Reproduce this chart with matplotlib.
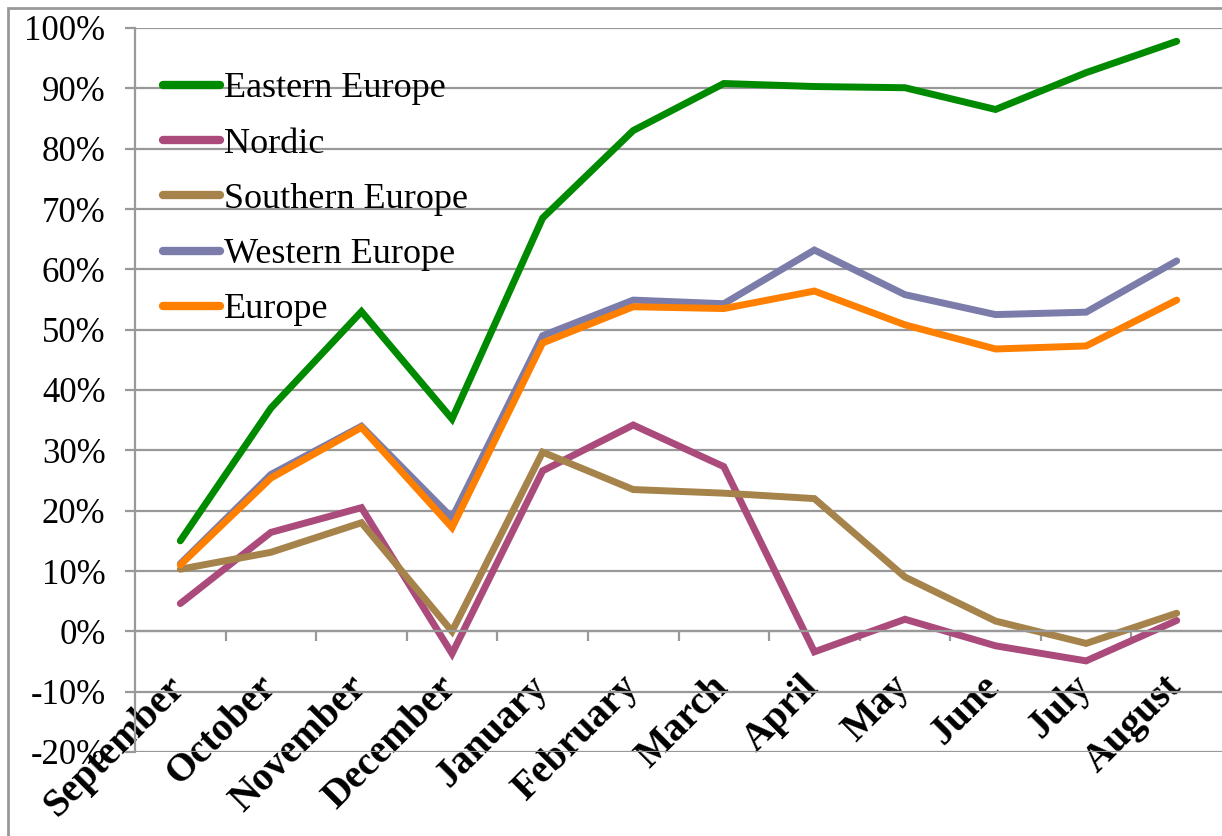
"""
Monthly change by European region, September - August
"""

import numpy as np
import matplotlib
matplotlib.use('Agg')
from matplotlib import pyplot as plt
from matplotlib import transforms
from matplotlib.patches import Rectangle
from matplotlib.ticker import FixedLocator, FuncFormatter

plt.rcParams['font.family'] = ['Liberation Serif', 'DejaVu Serif']

# Data (percent)
months = ['September', 'October', 'November', 'December', 'January', 'February',
          'March', 'April', 'May', 'June', 'July', 'August']

eastern_europe = [15.0, 37.0, 53.0, 35.2, 68.5, 83.0, 90.8, 90.3, 90.1, 86.5, 92.6, 97.8]
nordic = [4.6, 16.4, 20.5, -3.7, 26.6, 34.2, 27.3, -3.4, 2.0, -2.4, -4.9, 1.8]
southern_europe = [10.3, 13.1, 18.0, 0.0, 29.7, 23.5, 22.9, 22.0, 9.0, 1.7, -2.0, 3.0]
western_europe = [11.2, 26.0, 34.0, 18.8, 49.0, 54.9, 54.3, 63.2, 55.8, 52.5, 52.9, 61.4]
europe = [11.0, 25.4, 33.8, 17.2, 47.8, 53.8, 53.5, 56.4, 50.8, 46.8, 47.3, 54.9]

series = [
    ('Eastern Europe', eastern_europe, '#008A00'),
    ('Nordic', nordic, '#AA4B7C'),
    ('Southern Europe', southern_europe, '#A6834A'),
    ('Western Europe', western_europe, '#7B7CAA'),
    ('Europe', europe, '#FF7F00'),
]

# Figure and axes (placed in pixels of a 1222x836 canvas)
W, H = 1222, 836
fig = plt.figure(figsize=(W / 100, H / 100), dpi=100)
ax = fig.add_axes([135 / W, (H - 752) / H, (W - 135) / W, (752 - 28) / H])

x = np.arange(len(months))
for name, values, color in series:
    ax.plot(x, values, color=color, linewidth=5.0, label=name,
            solid_joinstyle='miter', solid_capstyle='round')

# Axes limits and grid
ax.set_xlim(-0.5, len(months) - 0.5)
ax.set_ylim(-20, 100)
grid_color = '#999999'
ax.yaxis.set_major_locator(FixedLocator(np.arange(-20, 101, 10)))
ax.yaxis.set_major_formatter(FuncFormatter(lambda v, p: f'{v:.0f}%'))
ax.grid(axis='y', color=grid_color, linewidth=1.6)
ax.set_axisbelow(True)

for side in ['top', 'right']:
    ax.spines[side].set_visible(False)
ax.spines['left'].set_color(grid_color)
ax.spines['left'].set_linewidth(1.6)
ax.spines['bottom'].set_position(('data', 0))
ax.spines['bottom'].set_color(grid_color)
ax.spines['bottom'].set_linewidth(1.6)

ax.tick_params(axis='y', length=7.2, width=1.6, color=grid_color,
               pad=14, labelsize=25)

# Category labels at centres, tick marks between categories
ax.set_xticks(x)
ax.set_xticks(np.arange(0.5, len(months) - 0.5, 1), minor=True)
ax.set_xticklabels(months, rotation=45, ha='right', rotation_mode='anchor',
                   fontsize=28.5, fontweight='bold')
ax.tick_params(axis='x', which='major', length=0, pad=27)
ax.tick_params(axis='x', which='minor', length=7.2, width=1.6, color=grid_color)

shift = transforms.ScaledTranslation(-14 / 100, 0, fig.dpi_scale_trans)
for lbl in ax.get_xticklabels():
    lbl.set_transform(lbl.get_transform() + shift)

# Legend
leg = ax.legend(
    loc='upper left',
    bbox_to_anchor=(163 / W, 1 - 72 / H),
    bbox_transform=fig.transFigure,
    frameon=False,
    fontsize=26,
    handlelength=1.58,
    handletextpad=0.11,
    labelspacing=0.61,
    borderpad=0,
    borderaxespad=0,
)
for line in leg.get_lines():
    line.set_linewidth(6)
    line.set_solid_capstyle('round')

# Outer chart border
fig.patches.append(Rectangle((8 / W, -0.1), 1.2, 1 - 8 / H + 0.1,
                             transform=fig.transFigure, fill=False,
                             edgecolor=grid_color, linewidth=2.0))

fig.savefig('out.png', dpi=100)
